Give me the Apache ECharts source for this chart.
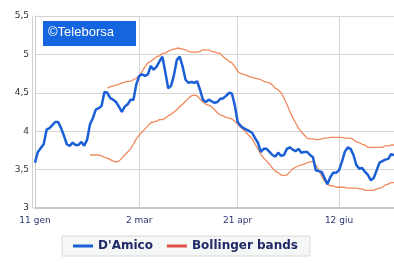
<!DOCTYPE html>
<html lang="it">
<head>
    <meta charset="UTF-8">
    <title>D'Amico - Bollinger bands</title>
    <script src="https://cdn.jsdelivr.net/npm/echarts@6/dist/echarts.min.js"></script>
    <style>
        html, body { margin: 0; padding: 0; background: #fff; }
        #chart { width: 394px; height: 263px; }
    </style>
</head>
<body>
    <div id="chart"></div>
    <script>
        // tick labels and where they sit on the category axis
        const tickIdx = [0, 36, 70, 105];
        const tickLabels = ['11 gen', '2 mar', '21 apr', '12 giu'];

        // prezzo D'Amico (one value per trading day)
        const damico = [
            3.59, 3.73, 3.78, 3.83, 4.02, 4.04, 4.08, 4.12, 4.12, 4.04,
            3.94, 3.83, 3.81, 3.85, 3.82, 3.82, 3.86, 3.81, 3.89, 4.09,
            4.17, 4.28, 4.30, 4.33, 4.51, 4.50, 4.43, 4.41, 4.38, 4.32,
            4.25, 4.32, 4.35, 4.41, 4.41, 4.61, 4.72, 4.74, 4.72, 4.74,
            4.85, 4.80, 4.84, 4.91, 4.97, 4.77, 4.56, 4.59, 4.73, 4.93,
            4.97, 4.84, 4.67, 4.63, 4.64, 4.63, 4.65, 4.54, 4.41, 4.38,
            4.41, 4.39, 4.37, 4.38, 4.42, 4.43, 4.46, 4.50, 4.49, 4.34,
            4.12, 4.07, 4.04, 4.02, 4.00, 3.98, 3.91, 3.85, 3.73, 3.77,
            3.77, 3.73, 3.69, 3.67, 3.72, 3.68, 3.69, 3.77, 3.79, 3.76,
            3.74, 3.77, 3.72, 3.73, 3.73, 3.69, 3.66, 3.49, 3.48, 3.47,
            3.39, 3.31, 3.40, 3.46, 3.46, 3.49, 3.60, 3.73, 3.79, 3.77,
            3.69, 3.56, 3.51, 3.52, 3.47, 3.43, 3.36, 3.39, 3.49, 3.59,
            3.61, 3.63, 3.64, 3.70, 3.69
        ];

        // banda superiore (parte dal 26esimo giorno)
        const upperBand = [
            null, null, null, null, null, null, null, null, null, null,
            null, null, null, null, null, null, null, null, null, null,
            null, null, null, null, null, 4.56, 4.58, 4.59, 4.60, 4.61,
            4.63, 4.64, 4.65, 4.65, 4.67, 4.69, 4.72, 4.78, 4.84, 4.89,
            4.91, 4.94, 4.97, 4.98, 5.01, 5.02, 5.04, 5.06, 5.07, 5.08,
            5.08, 5.07, 5.06, 5.04, 5.03, 5.03, 5.03, 5.04, 5.06, 5.06,
            5.06, 5.04, 5.03, 5.02, 5.01, 4.97, 4.94, 4.91, 4.89, 4.84,
            4.78, 4.75, 4.74, 4.73, 4.71, 4.70, 4.69, 4.68, 4.67, 4.65,
            4.64, 4.63, 4.60, 4.56, 4.54, 4.50, 4.43, 4.35, 4.26, 4.18,
            4.11, 4.04, 3.99, 3.95, 3.91, 3.90, 3.90, 3.89, 3.89, 3.90,
            3.91, 3.91, 3.92, 3.92, 3.92, 3.92, 3.92, 3.91, 3.91, 3.91,
            3.89, 3.86, 3.85, 3.83, 3.82, 3.79, 3.79, 3.79, 3.79, 3.79,
            3.79, 3.81, 3.81, 3.82, 3.82
        ];

        // banda inferiore (parte dal 20esimo giorno)
        const lowerBand = [
            null, null, null, null, null, null, null, null, null, null,
            null, null, null, null, null, null, null, null, null, 3.69,
            3.69, 3.69, 3.69, 3.68, 3.66, 3.65, 3.63, 3.61, 3.60, 3.61,
            3.65, 3.69, 3.73, 3.77, 3.83, 3.90, 3.95, 3.99, 4.03, 4.07,
            4.11, 4.12, 4.13, 4.15, 4.15, 4.17, 4.20, 4.22, 4.25, 4.28,
            4.32, 4.35, 4.39, 4.43, 4.46, 4.47, 4.46, 4.42, 4.38, 4.35,
            4.34, 4.32, 4.28, 4.24, 4.21, 4.20, 4.18, 4.17, 4.16, 4.13,
            4.09, 4.05, 4.02, 3.98, 3.94, 3.90, 3.83, 3.77, 3.70, 3.65,
            3.61, 3.57, 3.52, 3.48, 3.46, 3.43, 3.42, 3.43, 3.47, 3.51,
            3.53, 3.55, 3.56, 3.57, 3.59, 3.60, 3.60, 3.56, 3.49, 3.42,
            3.35, 3.31, 3.29, 3.29, 3.27, 3.27, 3.27, 3.27, 3.26, 3.26,
            3.26, 3.26, 3.25, 3.25, 3.23, 3.23, 3.23, 3.23, 3.25, 3.26,
            3.27, 3.30, 3.31, 3.33, 3.33
        ];

        const days = damico.map((v, i) => String(i));
        const isTick = (i) => tickIdx.indexOf(i) !== -1;

        const chart = echarts.init(document.getElementById('chart'));

        const bandStyle = { color: '#f08a5c', width: 1.3 };

        chart.setOption({
            animation: false,
            backgroundColor: '#fff',
            textStyle: { fontFamily: 'DejaVu Sans' },
            grid: { left: 35, right: 0, top: 16, bottom: 55 },
            xAxis: {
                type: 'category',
                data: days,
                boundaryGap: false,
                axisLine: { lineStyle: { color: '#c8c8c8', width: 2 } },
                axisTick: { show: false },
                axisLabel: {
                    interval: (i) => isTick(i),
                    formatter: (v, i) => tickLabels[tickIdx.indexOf(Number(v))] || '',
                    fontSize: 9,
                    color: '#2b3570',
                    margin: 8
                },
                splitLine: {
                    show: true,
                    interval: (i) => isTick(i),
                    lineStyle: { color: '#d6d6d6' }
                }
            },
            yAxis: [{
                type: 'value',
                min: 3,
                max: 5.5,
                interval: 0.5,
                axisLine: { show: true, lineStyle: { color: '#c8c8c8' } },
                axisTick: { show: false },
                axisLabel: {
                    fontSize: 9,
                    color: '#333',
                    margin: 6,
                    formatter: (v) => String(v).replace('.', ',')
                },
                splitLine: { lineStyle: { color: '#d6d6d6' } }
            }, {
                type: 'value',
                position: 'left',
                offset: 3,
                min: 3,
                max: 5.5,
                axisLine: { show: true, lineStyle: { color: '#d0d0d0' } },
                axisTick: { show: false },
                axisLabel: { show: false },
                splitLine: { show: false }
            }],
            legend: {
                left: 62,
                top: 236,
                padding: [4, 12, 4, 11],
                itemGap: 14,
                itemWidth: 20,
                itemHeight: 3,
                backgroundColor: '#f5f6f6',
                borderColor: '#d8d8d8',
                borderWidth: 1,
                textStyle: { fontSize: 12, fontWeight: 'bold', color: '#1f2a66', fontFamily: 'DejaVu Sans' },
                data: [
                    { name: "D'Amico", icon: 'rect', itemStyle: { color: '#1a5fd6' } },
                    { name: 'Bollinger bands', icon: 'rect', itemStyle: { color: '#e0504a' } }
                ]
            },
            graphic: [{
                type: 'group',
                left: 43,
                top: 21,
                children: [{
                    type: 'rect',
                    shape: { x: 0, y: 0, width: 93, height: 25 },
                    style: { fill: '#1564e0' }
                }, {
                    type: 'text',
                    x: 5,
                    y: 5,
                    style: {
                        text: '\u00a9Teleborsa',
                        fill: '#fff',
                        font: '13px "Liberation Sans", Arial, sans-serif'
                    }
                }]
            }],
            series: [{
                name: 'Bollinger bands',
                type: 'line',
                data: upperBand,
                showSymbol: false,
                lineStyle: bandStyle,
                itemStyle: { color: '#e0504a' }
            }, {
                name: 'Bollinger bands',
                type: 'line',
                data: lowerBand,
                showSymbol: false,
                lineStyle: bandStyle,
                itemStyle: { color: '#e0504a' }
            }, {
                name: "D'Amico",
                type: 'line',
                data: damico,
                showSymbol: false,
                z: 5,
                lineStyle: { color: '#1a5fd6', width: 2.5 },
                itemStyle: { color: '#1a5fd6' }
            }]
        });
    </script>
</body>
</html>
